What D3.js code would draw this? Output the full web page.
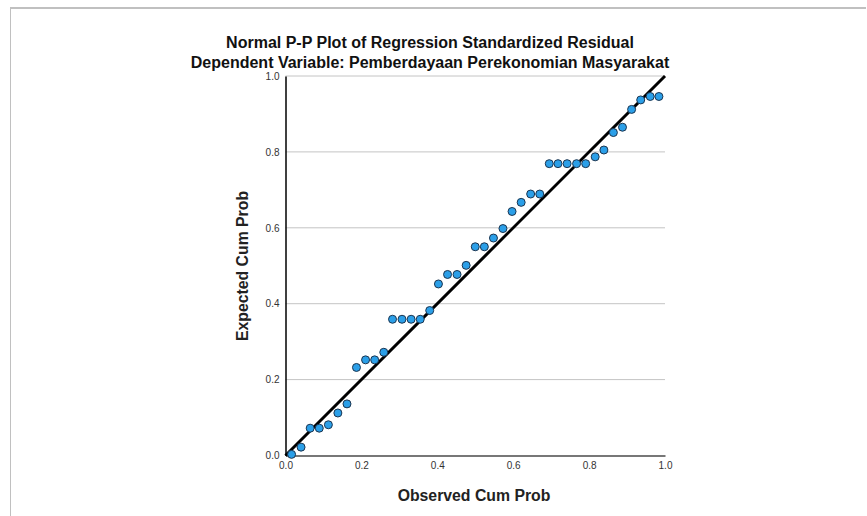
<!DOCTYPE html>
<html>
<head>
<meta charset="utf-8">
<script src="https://cdn.jsdelivr.net/npm/d3@7.9.0/dist/d3.min.js"></script>
<style>
  body { margin: 0; background: #fff; }
  svg { display: block; font-family: Arial, "Liberation Sans", sans-serif; }
  .tick text { fill: #333; font-size: 10px; }
</style>
</head>
<body>
<svg id="chart" width="867" height="516"></svg>
<script>
// observed cum prob (x) and expected cum prob (y)
const observed = [0.016, 0.041, 0.065, 0.089, 0.113, 0.138, 0.162, 0.187, 0.211, 0.235,
  0.259, 0.282, 0.307, 0.331, 0.355, 0.380, 0.403, 0.427, 0.452, 0.476,
  0.500, 0.524, 0.548, 0.573, 0.597, 0.621, 0.646, 0.670, 0.695, 0.718,
  0.742, 0.767, 0.791, 0.816, 0.839, 0.864, 0.888, 0.912, 0.936, 0.961, 0.984];
const expected = [0.003, 0.022, 0.072, 0.072, 0.081, 0.112, 0.136, 0.232, 0.252, 0.252,
  0.272, 0.359, 0.359, 0.359, 0.359, 0.382, 0.452, 0.477, 0.477, 0.501,
  0.550, 0.550, 0.573, 0.598, 0.643, 0.667, 0.689, 0.689, 0.769, 0.769,
  0.769, 0.769, 0.769, 0.787, 0.805, 0.851, 0.865, 0.912, 0.937, 0.946, 0.946];
const ticks = [0, 0.2, 0.4, 0.6, 0.8, 1.0];
const title = "Normal P-P Plot of Regression Standardized Residual";
const subtitle = "Dependent Variable: Pemberdayaan Perekonomian Masyarakat";

const svg = d3.select("#chart");

// outer frame (top and left edges only, like the output viewer)
svg.append("line").attr("x1", 10).attr("x2", 866).attr("y1", 8).attr("y2", 8)
  .attr("stroke", "#c0c0c0").attr("stroke-width", 2);
svg.append("line").attr("x1", 10.5).attr("x2", 10.5).attr("y1", 7).attr("y2", 516)
  .attr("stroke", "#c0c0c0").attr("stroke-width", 1);

const x = d3.scaleLinear().domain([0, 1]).range([285.5, 665]);
const y = d3.scaleLinear().domain([0, 1]).range([455.5, 76]);

// horizontal grid lines
svg.append("g").selectAll("line").data(ticks.slice(1)).join("line")
  .attr("x1", x(0)).attr("x2", x(1))
  .attr("y1", d => y(d)).attr("y2", d => y(d))
  .attr("stroke", "#c4c4c4").attr("stroke-width", 1);

// axes
const xAxis = svg.append("g").attr("transform", `translate(0,${y(0)})`)
  .call(d3.axisBottom(x).tickValues(ticks).tickFormat(d3.format(".1f")).tickSize(0).tickPadding(6));
xAxis.select(".domain").attr("stroke", "#777").attr("stroke-width", 2);

const yAxis = svg.append("g").attr("transform", `translate(${x(0)},0)`)
  .call(d3.axisLeft(y).tickValues(ticks).tickFormat(d3.format(".1f")).tickSize(0).tickPadding(6));
yAxis.select(".domain").attr("stroke", "#000").attr("stroke-width", 1.5);

// reference diagonal
svg.append("line")
  .attr("x1", x(0)).attr("y1", y(0)).attr("x2", x(1)).attr("y2", y(1))
  .attr("stroke", "#000").attr("stroke-width", 3);

// points
const pts = observed.map((o, i) => ({ o, e: expected[i] }));
svg.append("g").selectAll("circle").data(pts).join("circle")
  .attr("cx", d => x(d.o)).attr("cy", d => y(d.e)).attr("r", 4)
  .attr("fill", "#2b9fe8").attr("stroke", "#1c3550").attr("stroke-width", 1);

// titles
svg.append("text").attr("x", 430).attr("y", 48).attr("text-anchor", "middle")
  .attr("font-size", 16).attr("font-weight", 600).attr("fill", "#111").text(title);
svg.append("text").attr("x", 430).attr("y", 68).attr("text-anchor", "middle")
  .attr("font-size", 16).attr("font-weight", 600).attr("fill", "#111").text(subtitle);

svg.append("text").attr("x", 474).attr("y", 501).attr("text-anchor", "middle")
  .attr("font-size", 15.8).attr("font-weight", "bold").attr("fill", "#222").text("Observed Cum Prob");
svg.append("text").attr("transform", "translate(248,266) rotate(-90)").attr("text-anchor", "middle")
  .attr("font-size", 15.8).attr("font-weight", "bold").attr("fill", "#222").text("Expected Cum Prob");
</script>
</body>
</html>
